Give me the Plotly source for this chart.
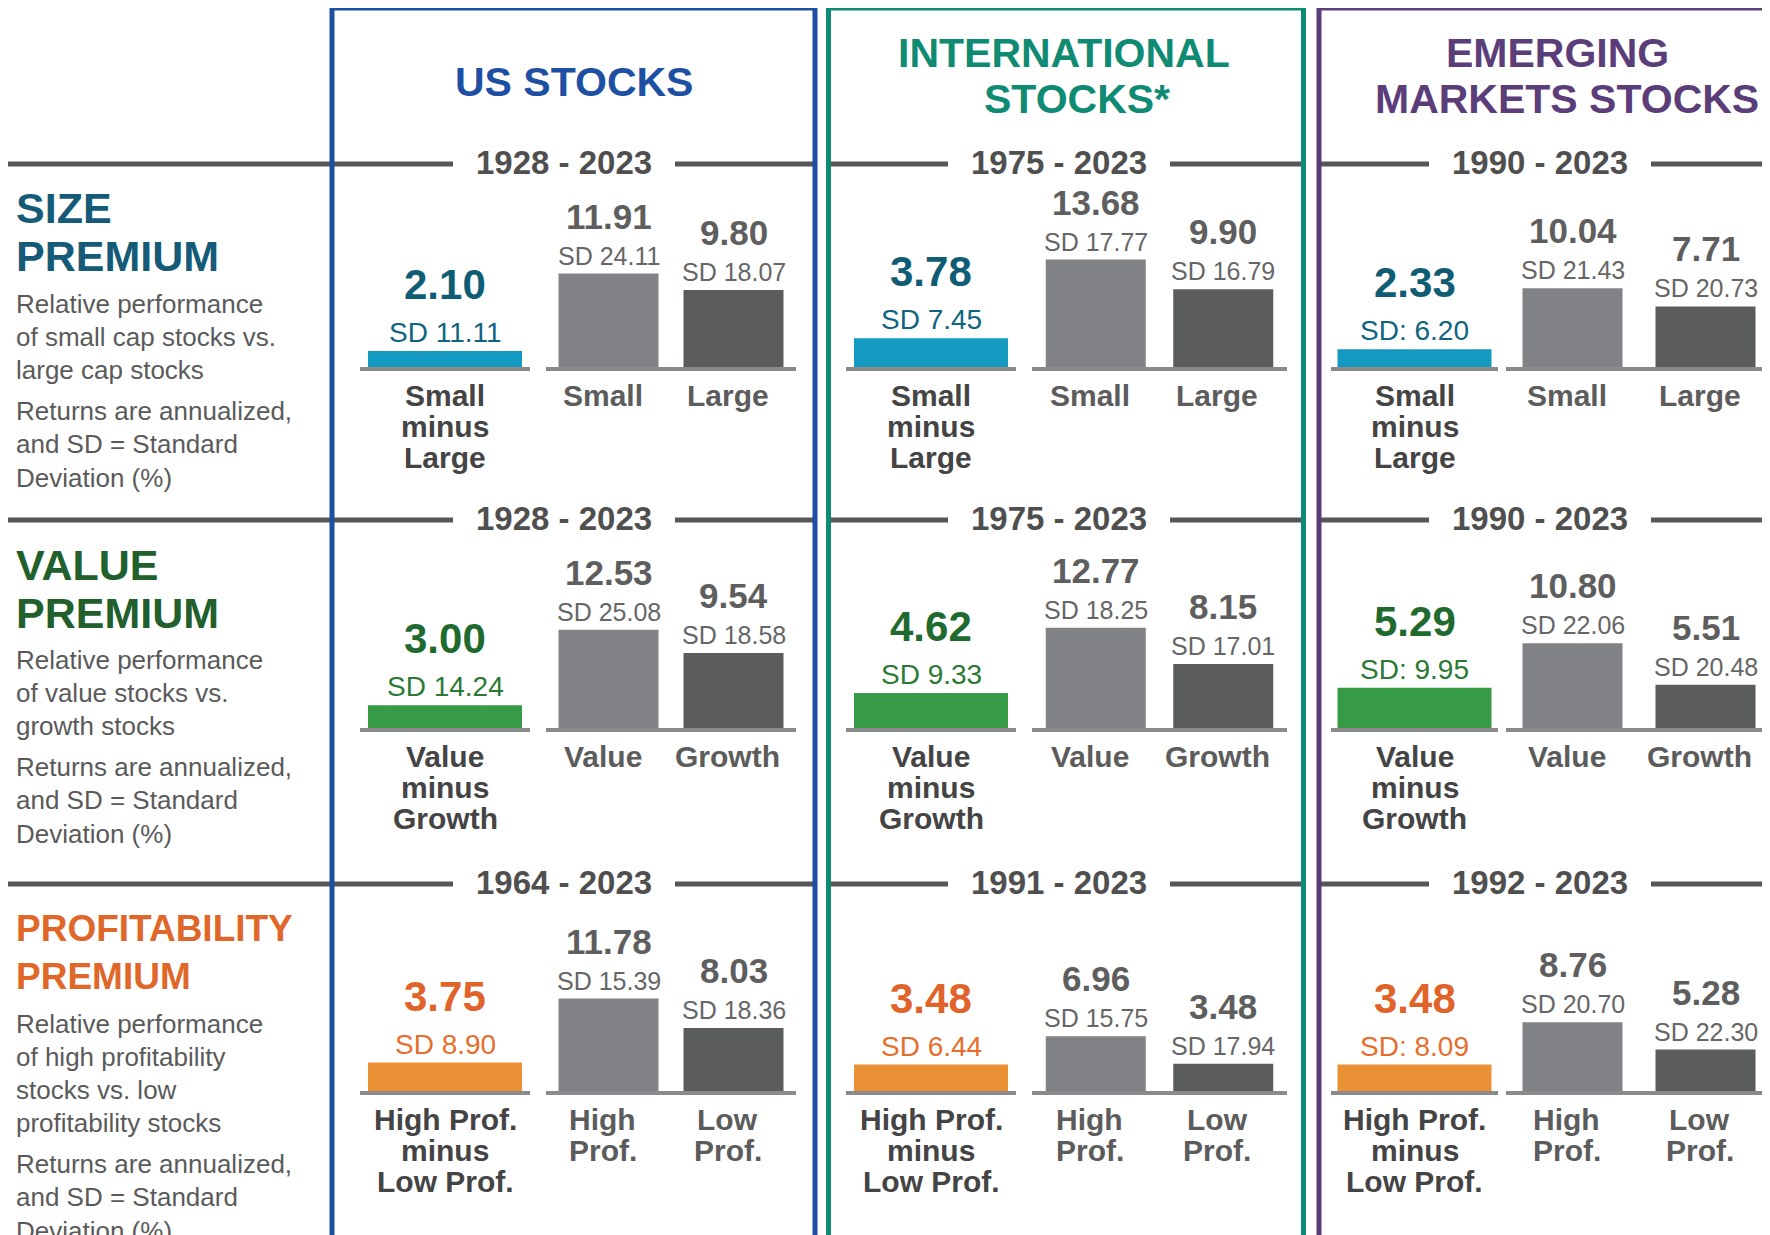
import plotly.graph_objects as go

# ---------------- DATA ----------------
column_titles = [["US STOCKS"], ["INTERNATIONAL", "STOCKS*"], ["EMERGING", "MARKETS STOCKS"]]
factor_titles = [["SIZE", "PREMIUM"], ["VALUE", "PREMIUM"], ["PROFITABILITY", "PREMIUM"]]
factor_desc = [
    ["Relative performance", "of small cap stocks vs.", "large cap stocks"],
    ["Relative performance", "of value stocks vs.", "growth stocks"],
    ["Relative performance", "of high profitability", "stocks vs. low", "profitability stocks"],
]
note_lines = ["Returns are annualized,", "and SD = Standard", "Deviation (%)"]
periods = [
    ["1928 - 2023", "1975 - 2023", "1990 - 2023"],
    ["1928 - 2023", "1975 - 2023", "1990 - 2023"],
    ["1964 - 2023", "1991 - 2023", "1992 - 2023"],
]
premium_labels = [["Small", "minus", "Large"], ["Value", "minus", "Growth"], ["High Prof.", "minus", "Low Prof."]]
pair_labels = [[["Small"], ["Large"]], [["Value"], ["Growth"]], [["High", "Prof."], ["Low", "Prof."]]]

premium_values = [[2.10, 3.78, 2.33], [3.00, 4.62, 5.29], [3.75, 3.48, 3.48]]
premium_sd = [[11.11, 7.45, 6.20], [14.24, 9.33, 9.95], [8.90, 6.44, 8.09]]
premium_sd_prefix = ["SD ", "SD ", "SD: "]
high_values = [[11.91, 13.68, 10.04], [12.53, 12.77, 10.80], [11.78, 6.96, 8.76]]
high_sd = [[24.11, 17.77, 21.43], [25.08, 18.25, 22.06], [15.39, 15.75, 20.70]]
low_values = [[9.80, 9.90, 7.71], [9.54, 8.15, 5.51], [8.03, 3.48, 5.28]]
low_sd = [[18.07, 16.79, 20.73], [18.58, 17.01, 20.48], [18.36, 17.94, 22.30]]

# ---------------- STYLE / LAYOUT ----------------
W, H = 1770, 1235
OX, OY = 8, 8          # page margin of the html body
FONT = "'Liberation Sans', Arial, sans-serif"
column_colors = ["#1d4fa3", "#0f8a73", "#5b3d79"]
factor_colors = ["#155b78", "#215f2c", "#e0672a"]
prem_value_colors = ["#0f5d75", "#1f6a2e", "#e0642a"]
prem_sd_colors = ["#0f6580", "#2a7a36", "#e66e2c"]
prem_bar_colors = ["#149ac0", "#369a47", "#ea9136"]
HIGH_COLOR = "#818285"
LOW_COLOR = "#5b5c5c"
RULE_COLOR = "#575757"
BASE_COLOR = "#8a8a8a"
TEXT_GREY = "#5a5a5a"

box_x = [(332, 815), (828.5, 1303.5), (1319, 1800)]
prem_dom = [(360, 530), (846, 1016), (1331, 1498)]
pair_dom = [(546, 796), (1032, 1287), (1506, 1772)]
PAIR_BAR_PX = 100
PREM_BAR_PX = 154
rule_y = [164, 520, 884]
base_y = [367, 728, 1091]
year_cx = [564, 1059, 1540]
title_offsets = [(59, 107), (60, 108), (57, 105)]
title_sizes = [43, 43, 37]
PANEL_H = 195
PREM_SCALE = 7.6
PAIR_SCALE = 7.85


def px(x):
    return (x - OX) / W


def py(y):
    return 1 - (y - OY) / H


def ptext(x, baseline, text, size, color, bold=False, xanchor="center"):
    ybot = baseline + 0.212 * size
    return dict(x=px(x), y=py(ybot), xref="paper", yref="paper", text=text,
                showarrow=False, xanchor=xanchor, yanchor="bottom",
                borderpad=0, borderwidth=0,
                font=dict(family=FONT, size=size, color=color,
                          weight="bold" if bold else "normal"))


fig = go.Figure()
axes = {}
annotations = []
shapes = []

# rules (drawn first, under boxes)
for r in range(3):
    y = py(rule_y[r])
    segs = [(8, year_cx[0] - 111), (year_cx[0] + 111, box_x[0][1]),
            (box_x[1][0], year_cx[1] - 111), (year_cx[1] + 111, box_x[1][1]),
            (box_x[2][0], year_cx[2] - 111), (year_cx[2] + 111, W + OX)]
    for a, b in segs:
        shapes.append(dict(type="line", xref="paper", yref="paper", x0=px(a), x1=px(b), y0=y, y1=y,
                           line=dict(color=RULE_COLOR, width=5), layer="below"))
    for c in range(3):
        annotations.append(ptext(year_cx[c], rule_y[r] + 10, periods[r][c], 33, "#4f4f4f", bold=True))

# boxes
for c in range(3):
    x0, x1 = box_x[c]
    shapes.append(dict(type="rect", xref="paper", yref="paper", x0=px(x0), x1=px(x1),
                       y0=py(8), y1=py(1260),
                       line=dict(color=column_colors[c], width=5), fillcolor="rgba(0,0,0,0)", layer="above"))

# column titles
annotations.append(ptext(574, 96, column_titles[0][0], 41, column_colors[0], bold=True))
annotations.append(ptext(1064, 67, column_titles[1][0], 41, column_colors[1], bold=True))
annotations.append(ptext(1077, 113, column_titles[1][1], 41, column_colors[1], bold=True))
annotations.append(ptext(1557, 67, column_titles[2][0], 41, column_colors[2], bold=True))
annotations.append(ptext(1567, 113, column_titles[2][1], 41, column_colors[2], bold=True))

# left side texts
for r in range(3):
    t1, t2 = title_offsets[r]
    annotations.append(ptext(16, rule_y[r] + t1, factor_titles[r][0], title_sizes[r], factor_colors[r], True, "left"))
    annotations.append(ptext(16, rule_y[r] + t2, factor_titles[r][1], title_sizes[r], factor_colors[r], True, "left"))
    yb = rule_y[r] + 149
    for i, line in enumerate(factor_desc[r]):
        annotations.append(ptext(16, yb + 33 * i, line, 26, TEXT_GREY, False, "left"))
    yb = yb + 33 * (len(factor_desc[r]) - 1) + 41
    for j, line in enumerate(note_lines):
        annotations.append(ptext(16, yb + 33.5 * j, line, 26, TEXT_GREY, False, "left"))

# bar panels
k = 0
for r in range(3):
    for c in range(3):
        for kind in ("prem", "pair"):
            k += 1
            xn = "x" if k == 1 else f"x{k}"
            yn = "y" if k == 1 else f"y{k}"
            xk = "xaxis" if k == 1 else f"xaxis{k}"
            yk = "yaxis" if k == 1 else f"yaxis{k}"
            dom = prem_dom[c] if kind == "prem" else pair_dom[c]
            scale = PREM_SCALE if kind == "prem" else PAIR_SCALE
            ncat = 1 if kind == "prem" else 2
            cat_px = (dom[1] - dom[0]) / ncat
            axes[xk] = dict(domain=[px(dom[0]), min(px(dom[1]), 1)], anchor=yn, type="category",
                            range=[-0.5, ncat - 0.5], showline=True, linecolor=BASE_COLOR, linewidth=4,
                            showticklabels=False, ticks="", showgrid=False, zeroline=False, fixedrange=True)
            axes[yk] = dict(domain=[py(base_y[r]), py(base_y[r] - PANEL_H)], anchor=xn,
                            range=[0, PANEL_H / scale], visible=False, fixedrange=True)
            if kind == "prem":
                cats = [" ".join(premium_labels[r])]
                vals = [premium_values[r][c]]
                fig.add_trace(go.Bar(x=cats, y=vals, width=PREM_BAR_PX / cat_px, xaxis=xn, yaxis=yn,
                                     marker=dict(color=prem_bar_colors[r], line_width=0), hoverinfo="skip"))
                v = premium_values[r][c]
                annotations.append(dict(x=0, y=v, xref=xn, yref=yn, text=f"{v:.2f}", showarrow=False,
                                        yanchor="bottom", yshift=43, borderpad=0, borderwidth=0,
                                        font=dict(family=FONT, size=42, color=prem_value_colors[r], weight="bold")))
                annotations.append(dict(x=0, y=v, xref=xn, yref=yn,
                                        text=f"{premium_sd_prefix[c]}{premium_sd[r][c]:.2f}", showarrow=False,
                                        yanchor="bottom", yshift=3, borderpad=0, borderwidth=0,
                                        font=dict(family=FONT, size=28, color=prem_sd_colors[r])))
                for i, line in enumerate(premium_labels[r]):
                    annotations.append(dict(x=0, y=0, xref=xn, yref=yn, text=line, showarrow=False,
                                            yanchor="top", yshift=-12 - 31 * i, borderpad=0, borderwidth=0,
                                            font=dict(family=FONT, size=30, color="#444444", weight="bold")))
            else:
                cats = [" ".join(l) for l in pair_labels[r]]
                vals = [high_values[r][c], low_values[r][c]]
                sds = [high_sd[r][c], low_sd[r][c]]
                fig.add_trace(go.Bar(x=cats, y=vals, width=PAIR_BAR_PX / cat_px, xaxis=xn, yaxis=yn,
                                     marker=dict(color=[HIGH_COLOR, LOW_COLOR], line_width=0), hoverinfo="skip"))
                for i in range(2):
                    annotations.append(dict(x=i, y=vals[i], xref=xn, yref=yn, text=f"{vals[i]:.2f}",
                                            showarrow=False, yanchor="bottom", yshift=38, borderpad=0, borderwidth=0,
                                            font=dict(family=FONT, size=35, color="#5e5e5e", weight="bold")))
                    annotations.append(dict(x=i, y=vals[i], xref=xn, yref=yn, text=f"SD {sds[i]:.2f}",
                                            showarrow=False, yanchor="bottom", yshift=4, borderpad=0, borderwidth=0,
                                            font=dict(family=FONT, size=25, color="#666666")))
                    for j, line in enumerate(pair_labels[r][i]):
                        annotations.append(dict(x=i, y=0, xref=xn, yref=yn, text=line, showarrow=False,
                                                yanchor="top", yshift=-12 - 31 * j, xshift=-6,
                                                borderpad=0, borderwidth=0,
                                                font=dict(family=FONT, size=30, color="#5c5c5c", weight="bold")))

fig.update_layout(width=W, height=H, margin=dict(l=0, r=0, t=0, b=0), paper_bgcolor="white",
                  plot_bgcolor="rgba(0,0,0,0)", showlegend=False, annotations=annotations, shapes=shapes,
                  **axes)
fig.write_html("out.html")
